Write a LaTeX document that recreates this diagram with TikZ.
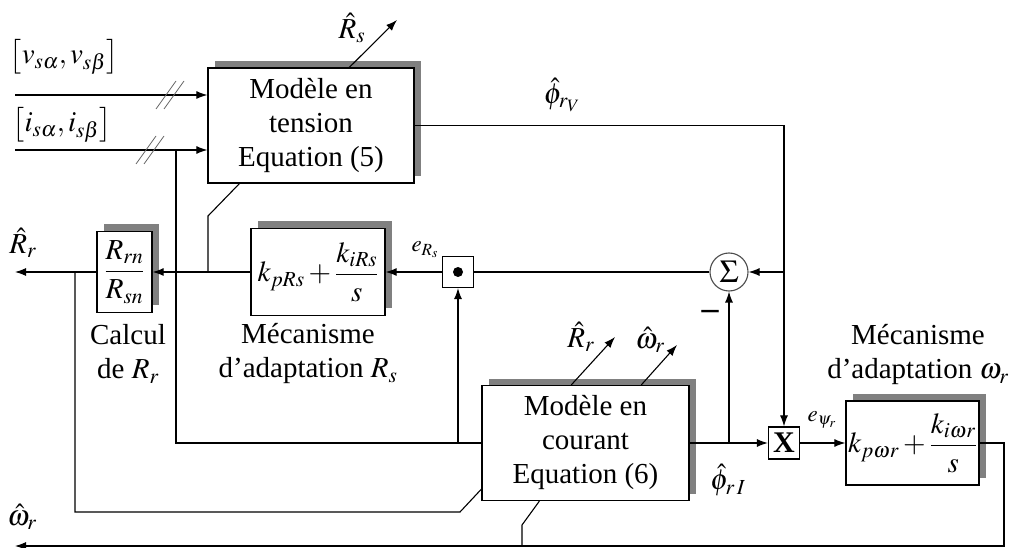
\documentclass[tikz,border=0pt]{standalone}
\usepackage{amsmath}
\usepackage{mathptmx}
\usepackage{fontspec}
\setmainfont{Liberation Serif}
\usetikzlibrary{arrows.meta,shadows,calc}
\begin{document}
\begin{tikzpicture}[x=1pt,y=-1pt,
  font=\fontsize{29}{34}\selectfont,
  line width=1.1pt,
  arr/.style={-{Latex[length=11pt,width=8pt]}},
  blk/.style={draw, fill=white, line width=1.3pt, inner sep=0pt, align=center,
    drop shadow={shadow xshift=7pt, shadow yshift=7pt, fill=black!50, opacity=1}},
  plainbox/.style={draw, fill=white, line width=1.2pt, inner sep=0pt, minimum width=31pt, minimum height=31pt},
  lbl/.style={inner sep=0pt, align=center},
  smalllbl/.style={inner sep=0pt, font=\fontsize{23}{28}\selectfont},
  slash/.style={line width=0.8pt, draw=black!60}]

\path[use as bounding box, fill=white] (0,0) rectangle (1010,548);

% blocks
\node[blk, minimum width=206pt, minimum height=115pt] (tension) at (311,125.5)
  {\raisebox{-3pt}{\parbox{200pt}{\centering Modèle en\\tension\\Equation (5)}}};
\node[blk, minimum width=134pt, minimum height=87pt] (kprs) at (318,272)
  {$k_{pRs}+\dfrac{k_{iRs}}{s}$};
\node[blk, minimum width=55pt, minimum height=81pt] (rrn) at (124.5,272)
  {$\dfrac{R_{rn}}{R_{sn}}$};
\node[blk, minimum width=207pt, minimum height=115pt] (cur) at (585.5,443)
  {\raisebox{-3pt}{\parbox{200pt}{\centering Modèle en\\courant\\Equation (6)}}};
\node[blk, minimum width=133pt, minimum height=84pt] (kpw) at (912.5,443)
  {$k_{p\omega r}+\dfrac{k_{i\omega r}}{s}$};
\node[plainbox] (dot) at (458,272) {};
\fill (dot.center) circle (5pt);
\node[draw=black!70, fill=white, circle, line width=1.1pt, minimum size=38pt, inner sep=0pt,
  font=\fontsize{32}{36}\selectfont] (sum) at (729,272) {$\Sigma$};
\node[plainbox, minimum height=32pt, font=\fontsize{30}{34}\selectfont\bfseries] (X) at (784,443) {X};

% inputs
\coordinate (v0) at (15,95);
\coordinate (i0) at (15,150);
\draw[arr] (v0) -- (v0 -| tension.west);
\draw[arr] (i0) -- (i0 -| tension.west);
\foreach \d in {-4,4} {
  \draw[slash] (160+\d,109) -- (180+\d,81);
  \draw[slash] (140+\d,164) -- (160+\d,136);
}
\coordinate (ja) at (176,150);
\coordinate (jb) at (176,443);
\coordinate (jd) at (458,443);
\draw (ja) -- (jb) -- (jb -| cur.west);
\draw[arr] (jd) -- (dot.south);

% tension model outputs
\coordinate (rs1) at (397,20);
\draw[arr] ($(tension.north west)+(142,0)$) -- (rs1);
\coordinate (ta) at (208,216);
\coordinate (tb) at (208,272);
\draw ($(tension.south west)+(32,0)$) -- (ta) -- (tb);
\coordinate (pv1) at (784,125.5);
\coordinate (pv2) at (784,272);
\draw[arr] (tension.east) -- (pv1) -- (X.north);
\draw[arr] (pv2) -- (sum.east);

% Rs loop
\draw (sum.west) -- (dot.east);
\draw[arr] (dot.west) -- (kprs.east);
\draw[arr] (kprs.west) -- (rrn.east);
\coordinate (rout) at (15,272);
\draw[arr] (rrn.west) -- (rout);
\coordinate (la) at (75,272);
\coordinate (lb) at (75,512);
\coordinate (lc) at (460,512);
\draw (la) -- (lb) -- (lc) -- ($(cur.south west)+(0,-12)$);

% current model outputs
\coordinate (c1) at (615,337);
\coordinate (c2) at (677,345);
\draw[arr] ($(cur.north west)+(90,0)$) -- (c1);
\draw[arr] ($(cur.north west)+(160,0)$) -- (c2);
\coordinate (pi) at (729,443);
\draw[arr] (cur.east) -- (X.west);
\draw[arr] (pi) -- (sum.south);
\draw[arr] (X.east) -- (kpw.west);

% omega feedback
\coordinate (w1) at (1004,443);
\coordinate (w2) at (1004,546);
\coordinate (wout) at (15,546);
\draw[arr] (kpw.east) -- (w1) -- (w2) -- (wout);
\coordinate (wa) at (522,546);
\coordinate (wb) at (522,525);
\draw (wa) -- (wb) -- ($(cur.south west)+(58,0)$);

% labels
\node[lbl] (lv) at (64,57) {$\left[v_{s\alpha},v_{s\beta}\right]$};
\node[lbl] (li) at (62,125) {$\left[i_{s\alpha},i_{s\beta}\right]$};
\node[lbl] (lrs) at (352,28) {$\hat{R}_s$};
\node[lbl] (lpv) at (562,95) {$\hat{\phi}_{r_V}$};
\node[lbl] (lrr) at (23,243) {$\hat{R}_r$};
\node[lbl] (lcalc) at (128,354) {Calcul\\de $R_r$};
\node[lbl] (lmrs) at (308,354) {Mécanisme\\d’adaptation $R_s$};
\node[smalllbl] (lers) at (425,250) {$e_{R_s}$};
\node[lbl, font=\fontsize{34}{36}\selectfont\bfseries] (lminus) at (710,315) {–};
\node[lbl] (lrr2) at (581,337) {$\hat{R}_r$};
\node[lbl] (lwr) at (650,340) {$\hat{\omega}_r$};
\node[lbl] (lpi) at (728,480) {$\hat{\phi}_{r\,I}$};
\node[smalllbl] (lepsi) at (822,420) {$e_{\psi_r}$};
\node[lbl] (lmw) at (918,355) {Mécanisme\\d’adaptation $\omega_r$};
\node[lbl] (lw) at (22,517) {$\hat{\omega}_r$};
\end{tikzpicture}
\end{document}
